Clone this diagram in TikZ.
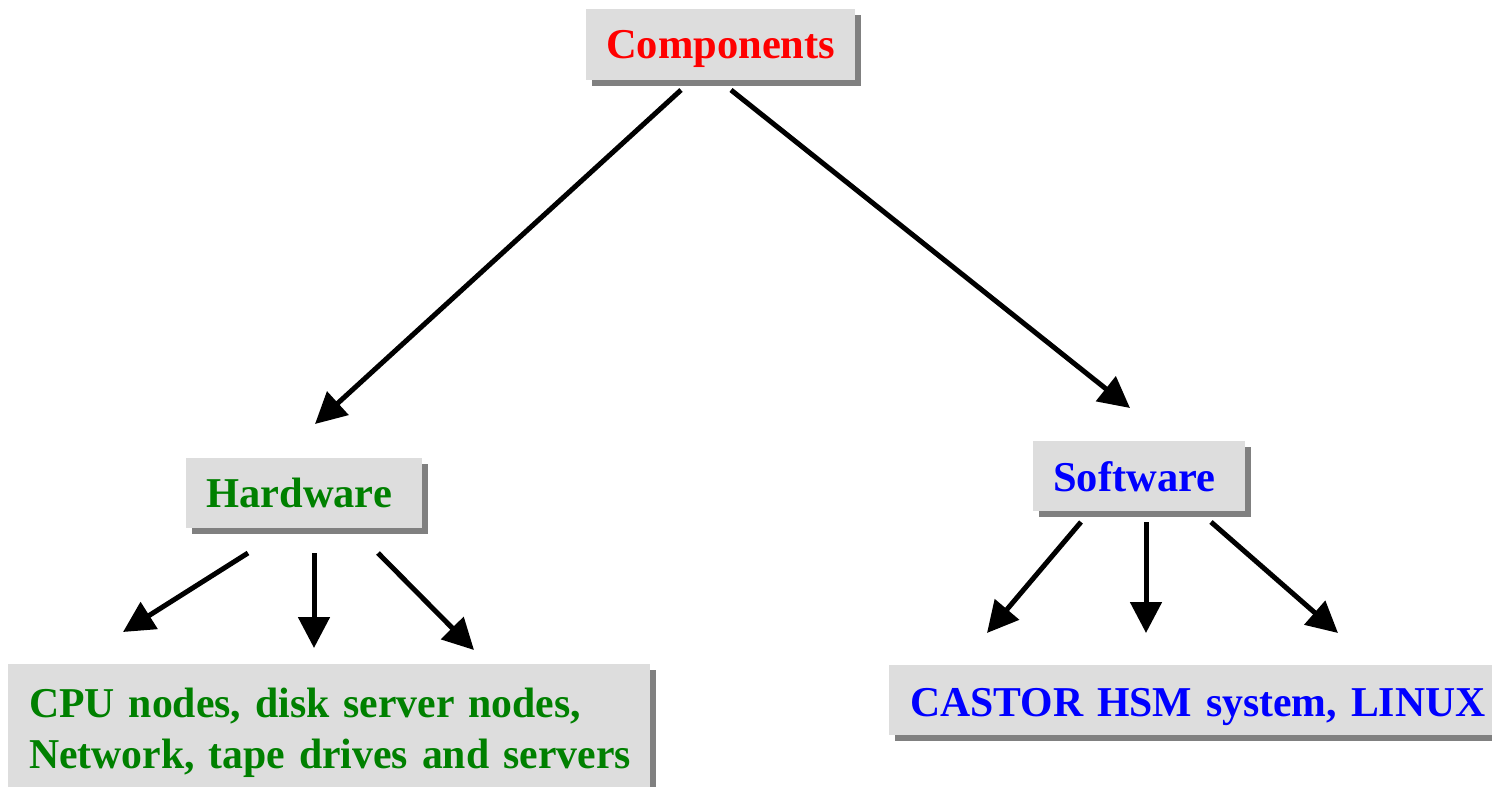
\documentclass[tikz,border=0pt]{standalone}
\usepackage{fontspec}
\usepackage{graphicx}
\setmainfont{Liberation Serif}
\usetikzlibrary{arrows.meta,shadows}

\definecolor{boxgray}{HTML}{DDDDDD}
\definecolor{shadegray}{HTML}{808080}
\definecolor{headred}{HTML}{FF0000}
\definecolor{hwgreen}{HTML}{008000}
\definecolor{swblue}{HTML}{0000FF}

% bold panel lettering
\newcommand{\panelfont}{\fontsize{42.5pt}{51pt}\selectfont\bfseries}
% one line of text, slightly narrowed
\newcommand{\tightline}[1]{\scalebox{0.982}[1]{#1}}

\tikzset{
  panel/.style={
    anchor=north west, fill=boxgray, draw=none,
    inner xsep=20pt, inner ysep=13pt,
    text height=36pt, text depth=8pt,
    font=\panelfont,
    drop shadow={shadow xshift=6pt, shadow yshift=-6pt, fill=shadegray, opacity=1}
  },
  link/.style={line width=5pt, -{Triangle[length=31pt,width=31pt]}}
}

\begin{document}
\begin{tikzpicture}[x=1pt,y=-1pt]
  \useasboundingbox (0,0) rectangle (1492,787);
  \clip (0,0) rectangle (1492,787);

  % boxes
  \node[panel, text=headred, text width=229pt, align=center, inner ysep=13.5pt]
    (comp) at (586,9) {Components};
  \node[panel, text=hwgreen, text width=196pt, align=left]
    (hw) at (186,458) {Hardware};
  \node[panel, text=swblue, text width=172pt, align=left, inner ysep=14pt, text depth=6pt]
    (sw) at (1033,441) {Software};
  \node[panel, text=hwgreen, text width=600pt, align=left, inner xsep=21pt,
        inner ysep=17pt, text depth=59pt]
    (hwlist) at (8,664) {\tightline{CPU nodes, disk server nodes,}\\\tightline{Network, tape drives and servers}};
  \node[panel, text=swblue, text width=600pt, align=left, inner xsep=21pt,
        inner ysep=15pt, text depth=4pt]
    (swlist) at (889,665) {\tightline{CASTOR HSM system, LINUX}};

  % connector end points
  \coordinate (c1) at (681,90);   \coordinate (h1) at (315,424);
  \coordinate (c2) at (731,90);   \coordinate (s1) at (1130,408);
  \coordinate (hA) at (248,553);  \coordinate (hA2) at (123,632);
  \coordinate (hB) at (314,553);  \coordinate (hB2) at (314,648);
  \coordinate (hC) at (378,553);  \coordinate (hC2) at (474,650);
  \coordinate (sA) at (1081,522); \coordinate (sA2) at (987,633);
  \coordinate (sB) at (1146,522); \coordinate (sB2) at (1146,633);
  \coordinate (sC) at (1211,522); \coordinate (sC2) at (1338,633);

  % connectors
  \draw[link] (c1) -- (h1);
  \draw[link] (c2) -- (s1);
  \draw[link] (hA) -- (hA2);
  \draw[link] (hB) -- (hB2);
  \draw[link] (hC) -- (hC2);
  \draw[link] (sA) -- (sA2);
  \draw[link] (sB) -- (sB2);
  \draw[link] (sC) -- (sC2);
\end{tikzpicture}
\end{document}
